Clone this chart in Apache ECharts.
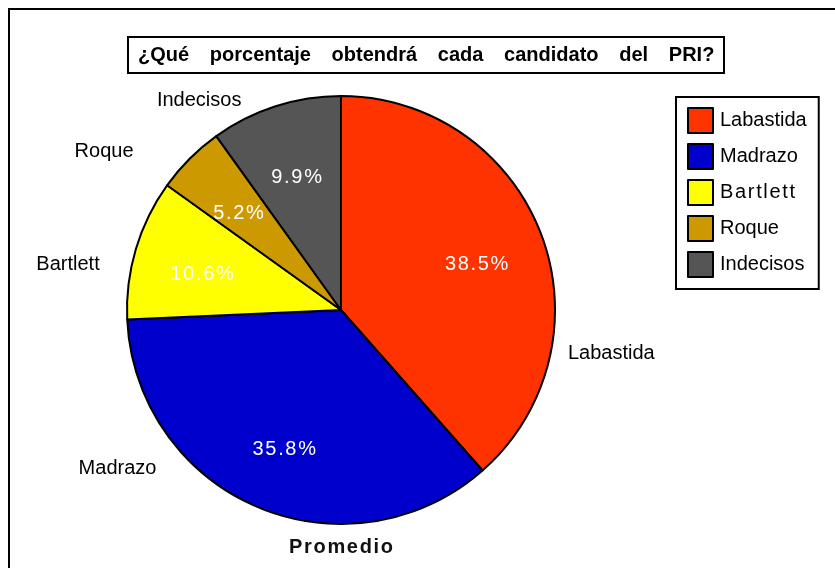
<!DOCTYPE html>
<html>
<head>
<meta charset="utf-8">
<script src="https://cdn.jsdelivr.net/npm/echarts@6/dist/echarts.min.js"></script>
<style>
  html, body { margin: 0; padding: 0; background: #fff; }
  #chart { width: 835px; height: 568px; }
</style>
</head>
<body>
<div id="chart"></div>
<script>
// datos del grafico
var candidatos = ['Labastida', 'Madrazo', 'Bartlett', 'Roque', 'Indecisos'];
var porcentajes = [38.5, 35.8, 10.6, 5.2, 9.9];
var colores = ['#ff3300', '#0000cc', '#ffff00', '#cc9900', '#555555'];
var palabrasTitulo = ['¿Qué', 'porcentaje', 'obtendrá', 'cada', 'candidato', 'del', 'PRI?'];
var subtitulo = 'Promedio';

// desplazamiento de las etiquetas de nombre (fuera del pastel)
var etiquetaDx = [-7, -78, -2, -27, -13];
var etiquetaDy = [126, -57, 21, 7, 13];

var fuente = '"Liberation Sans", Arial, sans-serif';

function espaciar(texto, sep) {
    return texto.split('').join(sep || '\u200a');
}

var datos = candidatos.map(function (nombre, i) {
    return { name: nombre, value: porcentajes[i], itemStyle: { color: colores[i] } };
});

var chart = echarts.init(document.getElementById('chart'), null, { renderer: 'canvas' });

var option = {
    animation: false,
    backgroundColor: '#fff',
    textStyle: { fontFamily: fuente },
    title: [{
        text: palabrasTitulo.join('   \u2009'),
        left: 128,
        top: 37,
        padding: [8, 10, 8, 10],
        borderWidth: 2,
        borderColor: '#000',
        textStyle: { fontSize: 20, fontWeight: 'bold', color: '#000', fontFamily: fuente }
    }, {
        text: espaciar(subtitulo),
        left: 341,
        top: 537,
        textAlign: 'center',
        padding: 0,
        textStyle: { fontSize: 20, fontWeight: 'bold', color: '#111', fontFamily: fuente }
    }],
    legend: {
        orient: 'vertical',
        left: 676,
        top: 97,
        padding: [10, 12, 11, 11],
        icon: 'rect',
        itemWidth: 25,
        itemHeight: 25,
        itemGap: 9,
        borderWidth: 2,
        borderColor: '#000',
        data: candidatos,
        itemStyle: { borderColor: '#000', borderWidth: 2 },
        formatter: function (nombre) {
            return nombre === 'Bartlett' ? espaciar(nombre) : nombre;
        },
        textStyle: { fontSize: 20, color: '#000', fontFamily: fuente, padding: [0, 0, 0, 2] }
    },
    graphic: [{
        type: 'rect',
        silent: true,
        z: 100,
        shape: { x: 9, y: 9, width: 840, height: 580 },
        style: { fill: 'none', stroke: '#000', lineWidth: 2 }
    }],
    series: [{
        name: 'Promedio',
        type: 'pie',
        center: [341, 310],
        radius: 214,
        startAngle: 90,
        clockwise: true,
        data: datos,
        itemStyle: { borderColor: '#000', borderWidth: 2 },
        emphasis: { disabled: true },
        label: {
            show: true,
            position: 'outside',
            fontSize: 20,
            color: '#000',
            fontFamily: fuente
        },
        labelLine: { show: false, length: 20, length2: 10 },
        labelLayout: function (p) {
            return { dx: etiquetaDx[p.dataIndex], dy: etiquetaDy[p.dataIndex] };
        }
    }, {
        // serie invisible, solo para los porcentajes dentro de cada rebanada
        name: 'etiquetas',
        type: 'pie',
        center: [341, 310],
        radius: 284,
        startAngle: 90,
        clockwise: true,
        silent: true,
        data: candidatos.map(function (nombre, i) {
            return { name: nombre, value: porcentajes[i] };
        }),
        itemStyle: { color: 'rgba(0,0,0,0)', borderWidth: 0 },
        emphasis: { disabled: true },
        label: {
            show: true,
            position: 'inside',
            fontSize: 20,
            color: '#fff',
            fontFamily: fuente,
            formatter: function (p) {
                return espaciar(p.value.toFixed(1) + '%');
            }
        },
        labelLine: { show: false },
        labelLayout: function () {
            return { dy: 6 };
        }
    }]
};

chart.setOption(option);
</script>
</body>
</html>
